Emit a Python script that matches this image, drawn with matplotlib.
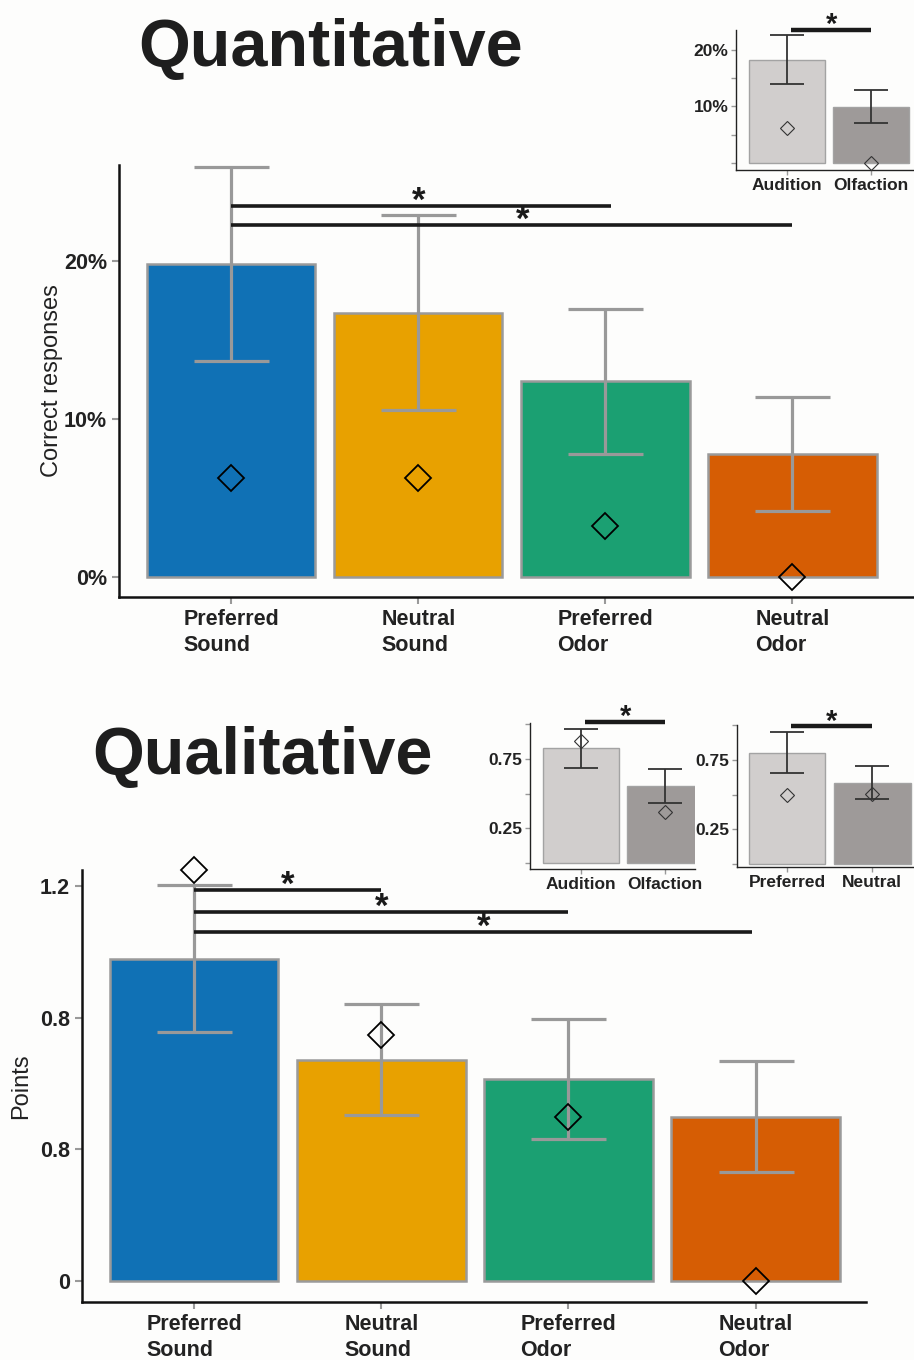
import matplotlib.pyplot as plt

plt.rcParams["font.family"] = ["Liberation Sans", "DejaVu Sans"]

# ---- data ----
CONDITIONS = ["Preferred\nSound", "Neutral\nSound", "Preferred\nOdor", "Neutral\nOdor"]
COLORS = ["#1071b5", "#e8a100", "#1ba072", "#d65d04"]

# quantitative (percent correct)
quant_mean = [19.8, 16.7, 12.4, 7.8]
quant_low = [13.7, 10.6, 7.8, 4.2]
quant_high = [26.0, 22.9, 17.0, 11.4]
quant_median = [6.3, 6.3, 3.2, 0.0]
quant_sig = [(0, 2.03, 23.5, 1.0), (0, 3.0, 22.3, 1.56)]   # (from, to, height, star x)

# qualitative (points)
qual_mean = [0.979, 0.672, 0.614, 0.498]
qual_low = [0.757, 0.505, 0.432, 0.331]
qual_high = [1.203, 0.842, 0.796, 0.669]
qual_median = [1.249, 0.748, 0.498, 0.0]
qual_sig = [(0, 1, 1.188, 0.5), (0, 2, 1.12, 1.0), (0, 2.98, 1.06, 1.545)]
qual_yticks = [0, 0.4, 0.8, 1.2]
qual_yticklabels = ["0", "0.8", "0.8", "1.2"]

# insets
mod_labels = ["Audition", "Olfaction"]
pref_labels = ["Preferred", "Neutral"]
INSET_COLORS = ["#d1cecd", "#9e9a99"]

ins1_mean = [18.2, 9.9]
ins1_low = [14.0, 7.1]
ins1_high = [22.6, 12.9]
ins1_median = [6.2, 0.0]

ins2_mean = [0.826, 0.558]
ins2_low = [0.688, 0.435]
ins2_high = [0.964, 0.681]
ins2_median = [0.877, 0.37]

ins3_mean = [0.80, 0.586]
ins3_low = [0.657, 0.471]
ins3_high = [0.95, 0.707]
ins3_median = [0.50, 0.507]


def star(ax, x, y, size, dy):
    ax.annotate("*", xy=(x, y), xytext=(0, dy), textcoords="offset points",
                ha="center", va="baseline", fontsize=size, fontweight="bold",
                color="#1a1a1a", annotation_clip=False)


def main_panel(ax, mean, low, high, median, sig, ylim, xlim):
    x = list(range(len(mean)))
    ax.bar(x, mean, width=0.9, color=COLORS, edgecolor="#9a9a9a", linewidth=1.8, zorder=1)
    yerr = [[m - l for m, l in zip(mean, low)], [h - m for m, h in zip(mean, high)]]
    ax.errorbar(x, mean, yerr=yerr, fmt="none", ecolor="#999999", elinewidth=2.3,
                capsize=27, capthick=2.3, zorder=2, clip_on=False)
    ax.plot(x, median, linestyle="none", marker="D", markersize=13, markerfacecolor="none",
            markeredgecolor="black", markeredgewidth=1.3, zorder=4, clip_on=False)
    for a, b, h, sx in sig:
        ax.plot([a, b], [h, h], color="#1a1a1a", linewidth=2.6, zorder=3,
                clip_on=False, solid_capstyle="butt")
        star(ax, sx, h, 25, -3.5)
    ax.set_xlim(*xlim)
    ax.set_ylim(*ylim)
    ax.set_xticks(x)
    ax.set_xticklabels(CONDITIONS, fontsize=15.5, fontweight="bold", color="#222222",
                       multialignment="left", linespacing=1.3)
    ax.set_facecolor("none")
    for s in ["top", "right"]:
        ax.spines[s].set_visible(False)
    for s in ["left", "bottom"]:
        ax.spines[s].set_linewidth(1.8)
        ax.spines[s].set_color("#111111")
    ax.tick_params(axis="both", color="#999999", length=5, width=1.5)
    ax.tick_params(axis="y", labelsize=15.5)
    for lab in ax.get_yticklabels():
        lab.set_fontweight("bold")
        lab.set_color("#222222")


def inset_panel(ax, mean, low, high, median, labels, ylim, xlim, yticks, yticklabels, sig_h):
    x = [0, 1]
    ax.bar(x, mean, width=0.9, color=INSET_COLORS, edgecolor="#a3a3a3", linewidth=1.0, zorder=1)
    yerr = [[m - l for m, l in zip(mean, low)], [h - m for m, h in zip(mean, high)]]
    ax.errorbar(x, mean, yerr=yerr, fmt="none", ecolor="#333333", elinewidth=1.3,
                capsize=12, capthick=1.3, zorder=2)
    ax.plot(x, median, linestyle="none", marker="D", markersize=7.5, markerfacecolor="none",
            markeredgecolor="#333333", markeredgewidth=0.8, zorder=4, clip_on=False)
    ax.plot([0.05, 1.0], [sig_h, sig_h], color="#1a1a1a", linewidth=3.2, clip_on=False,
            solid_capstyle="butt", zorder=3)
    star(ax, 0.525, sig_h, 21, -2.5)
    ax.set_xlim(*xlim)
    ax.set_ylim(*ylim)
    ax.set_xticks(x)
    ax.set_xticklabels(labels, fontsize=12.5, fontweight="bold", color="#222222")
    ax.set_yticks(yticks)
    ax.set_yticklabels(yticklabels, fontsize=12.5, fontweight="bold", color="#222222")
    ax.set_facecolor("none")
    for s in ["top", "right"]:
        ax.spines[s].set_visible(False)
    for s in ["left", "bottom"]:
        ax.spines[s].set_linewidth(1.0)
        ax.spines[s].set_color("#222222")
    ax.tick_params(axis="both", color="#999999", length=3.5, width=1.0, pad=2)


fig = plt.figure(figsize=(9.14, 13.6), dpi=100, facecolor="#fdfdfc")

# Quantitative
ax1 = fig.add_axes([0.1302, 0.561, 0.8698, 0.3177])
main_panel(ax1, quant_mean, quant_low, quant_high, quant_median, quant_sig,
           ylim=(-1.27, 26.1), xlim=(-0.6, 3.65))
ax1.set_yticks([0, 10, 20])
ax1.set_yticklabels(["0%", "10%", "20%"])
ax1.set_ylabel("Correct responses", fontsize=17, color="#222222", labelpad=1)

# Qualitative
ax2 = fig.add_axes([0.0897, 0.0426, 0.8578, 0.3177])
main_panel(ax2, qual_mean, qual_low, qual_high, qual_median, qual_sig,
           ylim=(-0.064, 1.249), xlim=(-0.6, 3.59))
ax2.set_yticks(qual_yticks)
ax2.set_yticklabels(qual_yticklabels)
ax2.set_ylabel("Points", fontsize=17, color="#222222", labelpad=6)

# insets
in1 = fig.add_axes([0.8053, 0.875, 0.1947, 0.103])
inset_panel(in1, ins1_mean, ins1_low, ins1_high, ins1_median, mod_labels,
            ylim=(-1.24, 23.5), xlim=(-0.61, 1.51), yticks=[0, 5, 10, 15, 20],
            yticklabels=["", "", "10%", "", "20%"], sig_h=23.5)

in2 = fig.add_axes([0.5799, 0.361, 0.1805, 0.1074])
inset_panel(in2, ins2_mean, ins2_low, ins2_high, ins2_median, mod_labels,
            ylim=(-0.043, 1.01), xlim=(-0.61, 1.36), yticks=[0, 0.25, 0.5, 0.75, 1.0],
            yticklabels=["", "0.25", "", "0.75", ""], sig_h=1.02)

in3 = fig.add_axes([0.8063, 0.3625, 0.1927, 0.1044])
inset_panel(in3, ins3_mean, ins3_low, ins3_high, ins3_median, pref_labels,
            ylim=(-0.021, 0.993), xlim=(-0.59, 1.48), yticks=[0, 0.25, 0.5, 0.75, 1.0],
            yticklabels=["", "0.25", "", "0.75", ""], sig_h=0.99)

fig.text(331 / 914, 1 - 66 / 1360, "Quantitative", ha="center", va="baseline",
         fontsize=48, fontweight="bold", color="#1e1e1e")
fig.text(262 / 914, 1 - 774 / 1360, "Qualitative", ha="center", va="baseline",
         fontsize=48, fontweight="bold", color="#1e1e1e")

fig.savefig("out.png", dpi=100, facecolor=fig.get_facecolor())
